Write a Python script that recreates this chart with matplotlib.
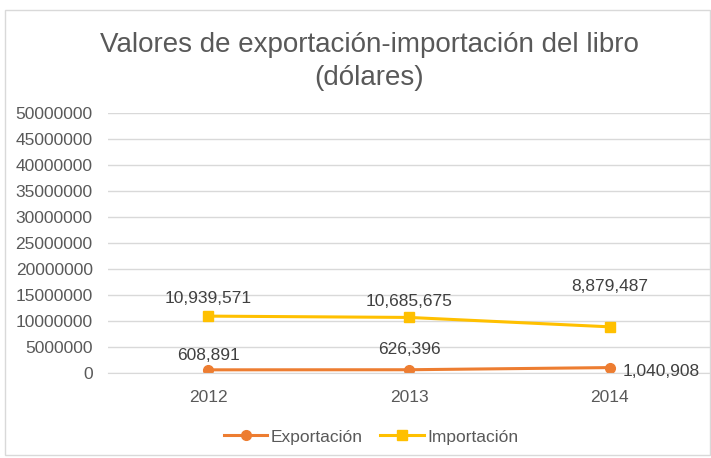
import matplotlib
matplotlib.use("Agg")
import matplotlib.pyplot as plt
from matplotlib.patches import Rectangle

plt.rcParams["font.family"] = ["Liberation Sans", "DejaVu Sans"]

years = ["2012", "2013", "2014"]
exportacion = [608891, 626396, 1040908]
importacion = [10939571, 10685675, 8879487]
yticks = list(range(0, 50000001, 5000000))

# label offsets in pixels (dx, dy)
imp_offsets = [(0, 18), (0, 16), (0, 40)]
exp_offsets = [(0, 14), (0, 20), (52, -4)]

W, H = 711, 458
fig = plt.figure(figsize=(W / 100, H / 100), dpi=100)
fig.patch.set_facecolor("white")
fig.patches.append(Rectangle((5 / W, 3 / H), 705 / W, 445 / H, transform=fig.transFigure,
                             fill=False, edgecolor="#D9D9D9", linewidth=1))

ax = fig.add_axes([108 / W, 1 - 373 / H, 602 / W, 260 / H])
x = list(range(len(years)))
orange = "#ED7D31"
yellow = "#FFC000"
ax.plot(x, exportacion, color=orange, marker="o", markersize=7, linewidth=2.2, label="Exportación")
ax.plot(x, importacion, color=yellow, marker="s", markersize=7, linewidth=2.2, label="Importación")

ax.set_xlim(-0.5, 2.5)
ax.set_ylim(0, 50000000)
ax.set_yticks(yticks)
ax.set_yticklabels([str(v) for v in yticks])
ax.set_xticks(x)
ax.set_xticklabels(years)
ax.grid(axis="y", color="#D9D9D9", linewidth=1)
ax.set_axisbelow(True)
for s in ["top", "right", "left"]:
    ax.spines[s].set_visible(False)
ax.spines["bottom"].set_color("#D9D9D9")
ax.tick_params(axis="both", length=0, labelsize=12.5, labelcolor="#595959")
ax.tick_params(axis="y", pad=11)
ax.tick_params(axis="x", pad=12)

for xi, v, (dx, dy) in zip(x, importacion, imp_offsets):
    ax.annotate(f"{v:,}", (xi, v), xytext=(dx, dy), textcoords="offset pixels",
                ha="center", va="center", fontsize=12.5, color="#404040")
for xi, v, (dx, dy) in zip(x, exportacion, exp_offsets):
    ax.annotate(f"{v:,}", (xi, v), xytext=(dx, dy), textcoords="offset pixels",
                ha="center", va="center", fontsize=12.5, color="#404040")

fig.text(369 / W, 1 - 45 / H, "Valores de exportación-importación del libro",
         ha="center", va="center", fontsize=20, color="#595959")
fig.text(369 / W, 1 - 78 / H, "(dólares)",
         ha="center", va="center", fontsize=20, color="#595959")

fig.legend(loc="center", bbox_to_anchor=(371 / W, 1 - 437 / H), ncol=2, frameon=False,
           fontsize=12.5, labelcolor="#595959", handlelength=2.5, columnspacing=1.0,
           handletextpad=0.2)

fig.savefig("out.png", dpi=100)
